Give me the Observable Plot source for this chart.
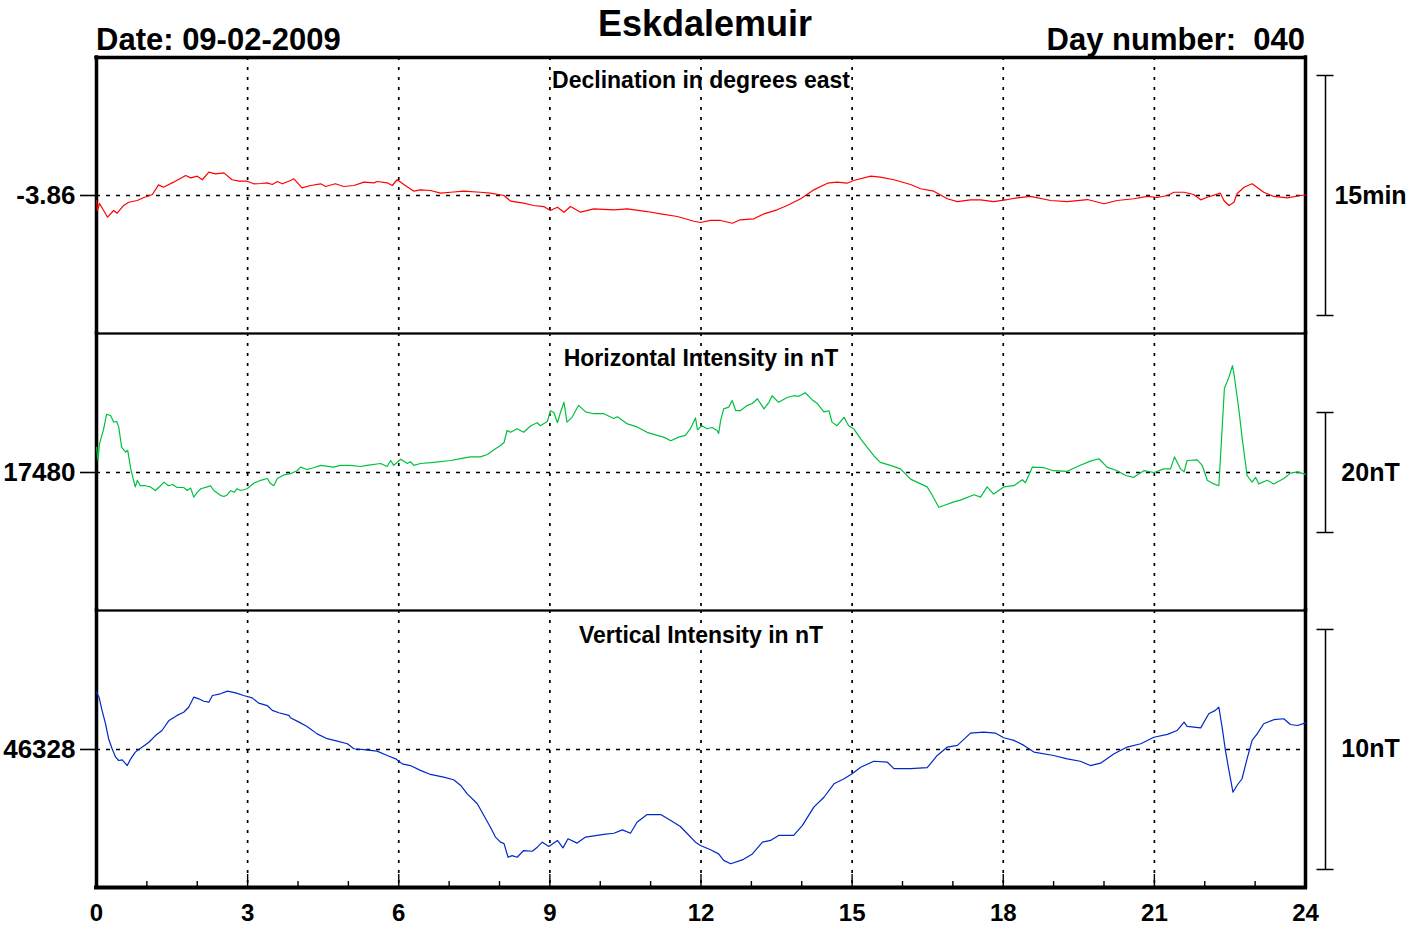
<!DOCTYPE html>
<html>
<head>
<meta charset="utf-8">
<script src="https://cdn.jsdelivr.net/npm/d3@7"></script>
<script src="https://cdn.jsdelivr.net/npm/@observablehq/plot@0.6"></script>
<style>
  body { margin: 0; background: #fff; }
  #chart { position: relative; width: 1421px; height: 930px; font-family: "Liberation Sans", Arial, sans-serif; font-weight: bold; color: #000; overflow: hidden; }
  .hdr { position: absolute; line-height: 1; white-space: pre; }
  .panel { position: absolute; left: 0; }
</style>
</head>
<body>
<div id="chart">
  <div class="hdr" style="left:0;width:1410px;text-align:center;top:6px;font-size:36px">Eskdalemuir</div>
  <div class="hdr" style="left:96px;top:24px;font-size:31px">Date: 09-02-2009</div>
  <div class="hdr" style="right:116px;top:24px;font-size:31px">Day number:  040</div>
</div>
<script>
// ---- data: [hour (UT), value] ----
const declination = [[0,-3.8652],[0.02,-3.8756],[0.06,-3.8683],[0.22,-3.8826],[0.34,-3.8756],[0.41,-3.8784],[0.54,-3.8704],[0.64,-3.8670],[0.81,-3.8652],[0.93,-3.8624],[1.11,-3.8590],[1.23,-3.8489],[1.33,-3.8514],[1.53,-3.8461],[1.77,-3.8392],[1.87,-3.8416],[2.0,-3.8399],[2.1,-3.8436],[2.23,-3.8357],[2.36,-3.8374],[2.53,-3.8364],[2.69,-3.8436],[2.83,-3.8451],[2.99,-3.8451],[3.12,-3.8478],[3.26,-3.8475],[3.39,-3.8468],[3.49,-3.8485],[3.59,-3.8454],[3.69,-3.8478],[3.85,-3.8444],[3.92,-3.8426],[4.08,-3.8520],[4.25,-3.8496],[4.45,-3.8478],[4.55,-3.8506],[4.74,-3.8478],[4.91,-3.8506],[5.11,-3.8496],[5.31,-3.8461],[5.51,-3.8468],[5.57,-3.8454],[5.77,-3.8468],[5.87,-3.8496],[5.97,-3.8436],[6.13,-3.8496],[6.3,-3.8555],[6.43,-3.8541],[6.63,-3.8548],[6.83,-3.8576],[7.03,-3.8566],[7.29,-3.8555],[7.62,-3.8566],[7.82,-3.8576],[8.09,-3.8600],[8.22,-3.8659],[8.48,-3.8680],[8.68,-3.8704],[8.88,-3.8715],[9.01,-3.8756],[9.15,-3.8722],[9.28,-3.8774],[9.41,-3.8715],[9.61,-3.8774],[9.87,-3.8739],[10.27,-3.8749],[10.54,-3.8739],[10.93,-3.8767],[11.2,-3.8791],[11.53,-3.8819],[11.86,-3.8868],[11.99,-3.8881],[12.19,-3.8860],[12.39,-3.8860],[12.62,-3.8889],[12.78,-3.8853],[13.05,-3.8843],[13.25,-3.8791],[13.51,-3.8749],[13.71,-3.8704],[13.98,-3.8634],[14.24,-3.8541],[14.51,-3.8472],[14.7,-3.8461],[14.9,-3.8472],[15.03,-3.8444],[15.37,-3.8399],[15.56,-3.8409],[15.83,-3.8436],[16.16,-3.8485],[16.36,-3.8530],[16.62,-3.8555],[16.89,-3.8634],[17.09,-3.8663],[17.35,-3.8645],[17.55,-3.8645],[17.81,-3.8663],[18.08,-3.8642],[18.28,-3.8624],[18.54,-3.8610],[18.94,-3.8652],[19.27,-3.8663],[19.67,-3.8642],[20.0,-3.8686],[20.26,-3.8652],[20.59,-3.8634],[20.86,-3.8610],[21.06,-3.8621],[21.26,-3.8600],[21.39,-3.8566],[21.59,-3.8566],[21.78,-3.8590],[21.92,-3.8645],[22.05,-3.8618],[22.31,-3.8576],[22.38,-3.8652],[22.48,-3.8704],[22.58,-3.8670],[22.64,-3.8582],[22.78,-3.8514],[22.94,-3.8478],[23.17,-3.8566],[23.37,-3.8610],[23.64,-3.8624],[23.9,-3.8600],[24,-3.8595]];

const horizontal = [[0,17484.2],[0.03,17482.0],[0.06,17484.8],[0.14,17487.2],[0.2,17489.7],[0.28,17489.5],[0.34,17488.4],[0.4,17488.5],[0.44,17487.6],[0.5,17484.2],[0.58,17483.4],[0.62,17483.7],[0.68,17480.6],[0.73,17478.9],[0.77,17477.6],[0.81,17478.7],[0.87,17477.8],[0.97,17477.8],[1.07,17477.6],[1.17,17477.0],[1.27,17477.8],[1.34,17478.4],[1.43,17477.8],[1.51,17478.0],[1.6,17477.5],[1.73,17477.5],[1.8,17477.0],[1.87,17477.4],[1.93,17475.9],[2.0,17476.7],[2.07,17477.3],[2.2,17477.6],[2.26,17477.8],[2.33,17477.0],[2.46,17476.2],[2.53,17476.0],[2.6,17476.3],[2.66,17477.0],[2.73,17476.7],[2.79,17477.3],[2.86,17477.0],[2.99,17477.3],[3.12,17478.2],[3.26,17478.7],[3.39,17479.0],[3.45,17478.2],[3.52,17477.8],[3.59,17479.0],[3.72,17479.6],[3.85,17479.8],[3.98,17480.3],[4.05,17480.9],[4.18,17480.5],[4.31,17480.8],[4.45,17481.2],[4.71,17480.9],[4.84,17481.2],[5.04,17481.2],[5.24,17481.0],[5.37,17481.2],[5.64,17481.5],[5.77,17481.0],[5.84,17482.0],[5.9,17481.2],[5.97,17481.7],[6.04,17482.2],[6.17,17481.5],[6.23,17481.8],[6.3,17481.2],[6.43,17481.5],[6.7,17481.7],[7.03,17482.0],[7.23,17482.3],[7.42,17482.6],[7.62,17482.6],[7.76,17483.0],[7.89,17483.8],[8.02,17484.5],[8.09,17485.0],[8.15,17487.0],[8.22,17486.7],[8.35,17487.3],[8.48,17486.7],[8.62,17487.8],[8.75,17488.3],[8.81,17487.8],[8.95,17488.5],[9.01,17490.3],[9.08,17490.0],[9.15,17488.3],[9.21,17490.0],[9.28,17491.7],[9.34,17488.4],[9.44,17489.2],[9.57,17491.2],[9.71,17490.1],[9.87,17489.8],[10.07,17489.8],[10.27,17489.0],[10.34,17489.3],[10.54,17488.1],[10.73,17487.6],[10.93,17486.7],[11.13,17486.2],[11.26,17485.9],[11.4,17485.3],[11.56,17485.9],[11.69,17486.2],[11.79,17487.3],[11.89,17489.1],[11.93,17487.1],[12.02,17487.8],[12.12,17487.3],[12.22,17487.5],[12.32,17487.0],[12.35,17486.5],[12.39,17488.7],[12.45,17490.6],[12.55,17490.9],[12.62,17492.0],[12.69,17490.3],[12.78,17490.3],[12.92,17491.2],[13.02,17491.5],[13.12,17492.3],[13.25,17490.6],[13.35,17491.7],[13.41,17492.8],[13.54,17491.7],[13.71,17492.5],[13.84,17492.8],[13.94,17492.7],[14.07,17493.3],[14.21,17492.1],[14.31,17491.5],[14.44,17490.1],[14.54,17490.3],[14.6,17488.4],[14.7,17487.8],[14.84,17489.2],[14.93,17487.8],[15.03,17487.3],[15.17,17485.6],[15.3,17484.2],[15.43,17482.8],[15.56,17481.7],[15.76,17481.2],[15.96,17480.6],[16.16,17478.9],[16.36,17478.1],[16.49,17477.6],[16.59,17476.2],[16.72,17474.2],[16.82,17474.5],[17.02,17475.1],[17.15,17475.4],[17.42,17476.3],[17.55,17475.9],[17.68,17477.6],[17.81,17476.4],[18.01,17477.6],[18.21,17477.8],[18.38,17478.8],[18.44,17478.3],[18.58,17480.9],[18.81,17480.8],[19.0,17480.3],[19.27,17480.2],[19.53,17481.2],[19.73,17481.9],[19.9,17482.3],[20.06,17480.9],[20.26,17480.3],[20.43,17479.5],[20.59,17479.2],[20.79,17480.3],[20.99,17480.0],[21.19,17480.6],[21.32,17480.6],[21.4,17482.6],[21.52,17480.6],[21.59,17480.1],[21.65,17482.0],[21.85,17482.1],[21.95,17481.2],[22.05,17478.7],[22.18,17478.1],[22.28,17477.8],[22.35,17488.1],[22.39,17494.0],[22.48,17495.9],[22.55,17497.8],[22.58,17496.5],[22.68,17490.3],[22.74,17485.9],[22.84,17479.5],[22.94,17478.4],[23.01,17479.2],[23.07,17478.1],[23.24,17478.7],[23.37,17478.1],[23.57,17479.0],[23.7,17479.9],[23.84,17480.1],[24,17479.7]];

const vertical = [[0,46330.39],[0.05,46330.18],[0.11,46329.63],[0.18,46329.07],[0.24,46328.45],[0.31,46328.03],[0.38,46327.68],[0.44,46327.54],[0.51,46327.57],[0.61,46327.33],[0.68,46327.61],[0.77,46327.89],[0.91,46328.10],[1.04,46328.30],[1.17,46328.58],[1.3,46328.79],[1.44,46329.21],[1.6,46329.42],[1.73,46329.55],[1.83,46329.76],[1.93,46330.18],[2.03,46330.11],[2.13,46330.01],[2.23,46329.97],[2.3,46330.25],[2.46,46330.32],[2.6,46330.43],[2.76,46330.36],[2.92,46330.25],[3.09,46330.15],[3.22,46329.93],[3.39,46329.83],[3.49,46329.63],[3.62,46329.53],[3.82,46329.42],[3.85,46329.32],[4.02,46329.14],[4.18,46328.96],[4.38,46328.65],[4.58,46328.45],[4.78,46328.35],[4.98,46328.24],[5.11,46328.03],[5.31,46327.99],[5.57,46327.93],[5.77,46327.75],[5.94,46327.61],[6.07,46327.40],[6.23,46327.33],[6.43,46327.13],[6.63,46326.96],[6.89,46326.85],[7.09,46326.74],[7.23,46326.50],[7.36,46326.15],[7.56,46325.74],[7.69,46325.25],[7.82,46324.76],[7.92,46324.35],[8.02,46324.14],[8.09,46324.08],[8.17,46323.51],[8.25,46323.58],[8.35,46323.51],[8.48,46323.79],[8.65,46323.76],[8.75,46323.93],[8.85,46324.14],[8.98,46323.96],[9.15,46324.21],[9.26,46323.90],[9.36,46324.28],[9.54,46324.10],[9.71,46324.35],[10.07,46324.46],[10.27,46324.51],[10.44,46324.65],[10.6,46324.51],[10.73,46324.97],[10.93,46325.29],[11.2,46325.29],[11.4,46325.04],[11.59,46324.79],[11.73,46324.49],[11.89,46324.14],[11.99,46324.00],[12.19,46323.82],[12.35,46323.65],[12.45,46323.38],[12.59,46323.24],[12.82,46323.40],[13.02,46323.65],[13.22,46324.14],[13.38,46324.21],[13.54,46324.42],[13.84,46324.42],[14.01,46324.83],[14.24,46325.60],[14.44,46326.01],[14.64,46326.57],[14.84,46326.78],[15.0,46326.99],[15.17,46327.26],[15.43,46327.51],[15.7,46327.47],[15.83,46327.20],[16.16,46327.20],[16.49,46327.24],[16.69,46327.75],[16.89,46328.10],[17.09,46328.17],[17.35,46328.68],[17.61,46328.72],[17.85,46328.68],[18.01,46328.49],[18.21,46328.38],[18.41,46328.17],[18.61,46327.89],[19.0,46327.75],[19.27,46327.61],[19.53,46327.51],[19.73,46327.33],[19.93,46327.43],[20.2,46327.82],[20.46,46328.10],[20.73,46328.24],[20.99,46328.51],[21.26,46328.63],[21.45,46328.79],[21.59,46329.14],[21.65,46328.96],[21.92,46328.90],[22.08,46329.49],[22.21,46329.63],[22.28,46329.76],[22.35,46328.86],[22.41,46327.96],[22.48,46327.13],[22.56,46326.22],[22.64,46326.50],[22.74,46326.78],[22.84,46327.61],[22.94,46328.38],[23.04,46328.65],[23.17,46329.07],[23.37,46329.24],[23.57,46329.28],[23.7,46329.04],[23.84,46329.00],[24,46329.11]];

// panel furniture
const panelTitles = ["Declination in degrees east", "Horizontal Intensity in nT", "Vertical Intensity in nT"];
const baselines = [-3.86, 17480, 46328];
const baselineLabels = ["-3.86", "17480", "46328"];
const scaleBarSpans = [0.25, 20, 10];          // 15 arcmin, 20 nT, 10 nT
const scaleBarLabels = ["15min", "20nT", "10nT"];
const yDomains = [[-4.00375, -3.71625], [17457, 17503.17], [46322.25, 46333.79]];
const lineColors = ["#ff0000", "#00c040", "#0028c8"];
const hourTicks = [0, 3, 6, 9, 12, 15, 18, 21, 24];
const gridHours = [3, 6, 9, 12, 15, 18, 21];
const minorHours = [1, 2, 4, 5, 7, 8, 10, 11, 13, 14, 16, 17, 19, 20, 22, 23];

// ---- layout ----
const W = 1421, X0 = 96, X1 = 1305;
const hourPx = (X1 - X0) / 24;
const panelTops = [57, 333, 610];
const panelHeights = [276, 277, 277];
const titleOffsets = [30, 32, 32];
const PAD = 6;
const series = [declination, horizontal, vertical];

const chart = document.getElementById("chart");

for (let i = 0; i < 3; i++) {
  const [lo, hi] = yDomains[i];
  const base = baselines[i];
  const span = scaleBarSpans[i];
  const pxPerUnit = panelHeights[i] / (hi - lo);
  const isBottom = i === 2;
  const mBottom = isBottom ? 43 : PAD;
  const marks = [
    Plot.ruleX(gridHours, {strokeDasharray: "3,7", strokeWidth: 1.7}),
    Plot.ruleY([base], {strokeDasharray: "4,6", strokeWidth: 1.5}),
    Plot.frame({strokeWidth: 1.8}),
    Plot.ruleX([0, 24], {strokeWidth: 3.5, strokeLinecap: "square"}),
    Plot.line(series[i], {x: d => d[0], y: d => d[1], stroke: lineColors[i], strokeWidth: 1.2}),
    // baseline tick + label on the left
    Plot.ruleY([base], {x1: -16 / hourPx, x2: 0, strokeWidth: 1.6}),
    Plot.text([baselineLabels[i]], {x: 0, y: base, dx: -21, text: d => d, textAnchor: "end", fontSize: 26, fontWeight: "bold"}),
    // panel title
    Plot.text([panelTitles[i]], {frameAnchor: "top", dy: titleOffsets[i], lineAnchor: "bottom", text: d => d, fontSize: 23, fontWeight: "bold"}),
    // scale bar on the right
    Plot.ruleX([24 + 20 / hourPx], {y1: base - span / 2, y2: base + span / 2, strokeWidth: 1.5}),
    Plot.link([base - span / 2, base + span / 2], {x1: 24 + 11 / hourPx, x2: 24 + 28 / hourPx, y1: d => d, y2: d => d, strokeWidth: 1.5}),
    Plot.text([scaleBarLabels[i]], {x: 24 + 65 / hourPx, y: base, text: d => d, fontSize: 25, fontWeight: "bold"})
  ];
  if (i === 0) marks.push(Plot.ruleY([hi], {strokeWidth: 3.5, strokeLinecap: "square"}));
  if (isBottom) {
    marks.push(
      Plot.ruleY([lo], {strokeWidth: 4, strokeLinecap: "square"}),
      Plot.ruleX(minorHours, {y1: lo, y2: lo + 6 / pxPerUnit, strokeWidth: 1.4}),
      Plot.ruleX(gridHours, {y1: lo, y2: lo + 13 / pxPerUnit, strokeWidth: 1.4}),
      Plot.text(hourTicks, {x: d => d, y: lo, dy: 26, text: d => String(d), fontSize: 24, fontWeight: "bold"})
    );
  }
  const svg = Plot.plot({
    width: W,
    height: PAD + panelHeights[i] + mBottom,
    marginLeft: X0,
    marginRight: W - X1,
    marginTop: PAD,
    marginBottom: mBottom,
    x: {domain: [0, 24], axis: null},
    y: {domain: [lo, hi], axis: null},
    style: {fontFamily: "'Liberation Sans', Arial, sans-serif", fontWeight: "bold", overflow: "visible", background: "transparent", color: "#000"},
    marks
  });
  const wrap = document.createElement("div");
  wrap.className = "panel";
  wrap.style.top = (panelTops[i] - PAD) + "px";
  wrap.appendChild(svg);
  chart.appendChild(wrap);
}
</script>
</body>
</html>
